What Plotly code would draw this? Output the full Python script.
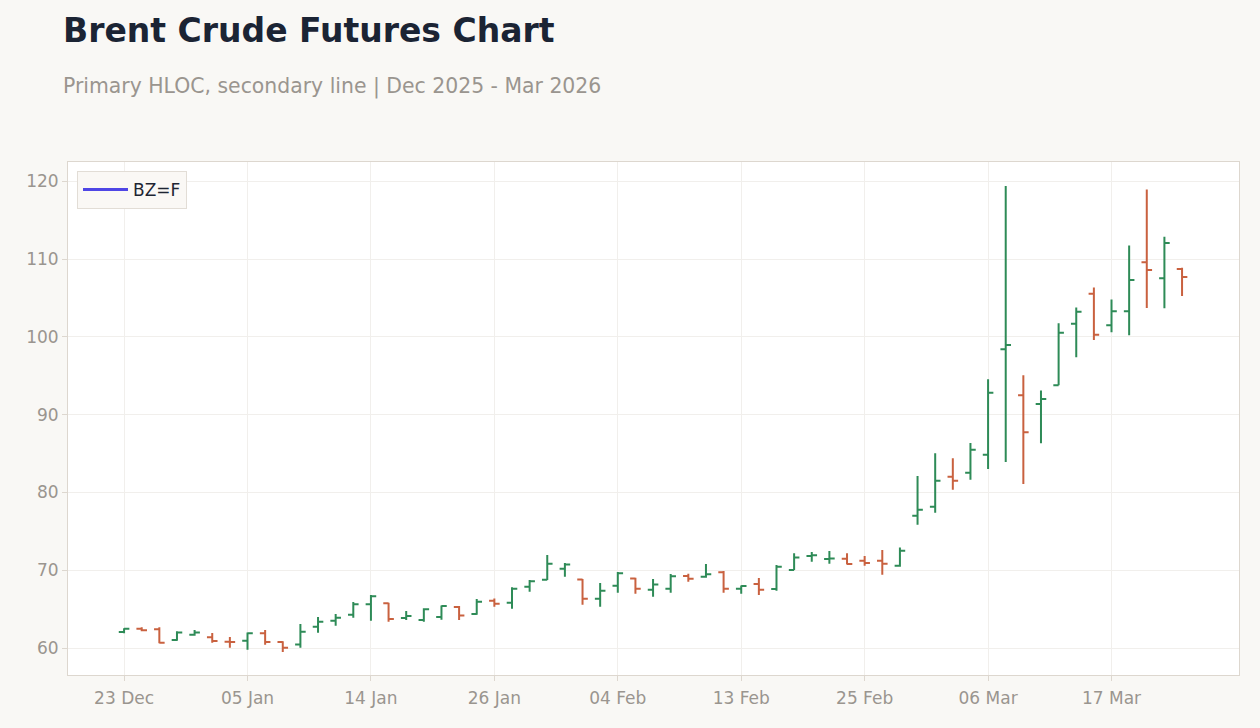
import plotly.graph_objects as go

dates = [
    "2025-12-23", "2025-12-24", "2025-12-26", "2025-12-29", "2025-12-30", "2025-12-31",
    "2026-01-02", "2026-01-05", "2026-01-06", "2026-01-07", "2026-01-08", "2026-01-09",
    "2026-01-12", "2026-01-13", "2026-01-14", "2026-01-15", "2026-01-16", "2026-01-20",
    "2026-01-21", "2026-01-22", "2026-01-23", "2026-01-26", "2026-01-27", "2026-01-28",
    "2026-01-29", "2026-01-30", "2026-02-02", "2026-02-03", "2026-02-04", "2026-02-05",
    "2026-02-06", "2026-02-09", "2026-02-10", "2026-02-11", "2026-02-12", "2026-02-13",
    "2026-02-17", "2026-02-18", "2026-02-19", "2026-02-20", "2026-02-23", "2026-02-24",
    "2026-02-25", "2026-02-26", "2026-02-27", "2026-03-02", "2026-03-03", "2026-03-04",
    "2026-03-05", "2026-03-06", "2026-03-09", "2026-03-10", "2026-03-11", "2026-03-12",
    "2026-03-13", "2026-03-16", "2026-03-17", "2026-03-18", "2026-03-19", "2026-03-20",
    "2026-03-23",
]

open_ = [62.06, 62.48, 62.40, 61.03, 61.71, 61.37, 60.81, 60.94, 61.89, 60.77,
         60.45, 62.74, 63.51, 64.28, 65.61, 65.74, 63.86, 63.60, 63.98, 65.27,
         64.37, 66.06, 65.82, 67.88, 68.78, 70.19, 68.82, 66.34, 68.01, 68.95,
         67.49, 67.62, 69.25, 69.17, 69.73, 67.62, 68.22, 67.58, 70.02, 71.82,
         71.44, 71.48, 71.22, 71.22, 70.58, 77.00, 78.16, 82.02, 82.53, 84.84,
         98.42, 92.50, 91.38, 93.78, 101.67, 105.53, 101.50, 103.30, 109.60, 107.55,
         108.71]
high = [62.55, 62.66, 62.66, 62.14, 62.31, 61.93, 61.41, 62.00, 62.31, 60.86,
        63.08, 63.98, 64.37, 65.91, 66.81, 65.82, 64.75, 65.10, 65.48, 65.40,
        66.30, 66.38, 67.80, 68.74, 71.95, 70.92, 68.87, 68.35, 69.77, 69.03,
        68.87, 69.51, 69.55, 70.79, 69.90, 68.05, 68.99, 70.66, 72.17, 72.33,
        72.46, 72.17, 71.82, 72.59, 72.93, 82.10, 85.05, 84.41, 86.34, 94.56,
        119.40, 95.07, 93.10, 101.76, 103.78, 106.36, 104.81, 111.76, 118.93, 112.88,
        108.89]
low = [61.90, 62.14, 60.60, 60.94, 61.58, 60.68, 60.04, 59.78, 60.43, 59.49,
       60.04, 61.97, 62.87, 63.90, 63.51, 63.38, 63.60, 63.38, 63.64, 63.60,
       64.28, 65.31, 65.05, 67.24, 68.74, 69.17, 65.56, 65.31, 67.11, 66.98,
       66.59, 67.11, 68.52, 69.03, 67.11, 66.98, 66.81, 67.37, 70.02, 71.09,
       70.84, 70.75, 70.58, 69.42, 70.45, 75.85, 77.39, 80.34, 81.63, 83.00,
       83.91, 81.08, 86.32, 93.78, 97.39, 99.61, 100.60, 100.20, 103.70, 103.69,
       105.24]
close = [62.48, 62.27, 60.68, 62.00, 62.00, 60.90, 60.77, 61.89, 60.77, 60.04,
         62.08, 63.38, 63.90, 65.61, 66.64, 63.73, 64.11, 64.97, 65.40, 64.19,
         65.95, 65.69, 67.62, 68.57, 70.84, 70.75, 66.34, 67.37, 69.60, 67.62,
         68.18, 69.21, 68.91, 69.47, 67.62, 67.97, 67.49, 70.45, 71.65, 71.91,
         71.52, 70.79, 70.92, 70.84, 72.50, 77.77, 81.50, 81.50, 85.48, 92.80,
         98.97, 87.73, 92.02, 100.52, 103.22, 100.26, 103.30, 107.30, 108.58, 112.06,
         107.68]

tick_dates = ["2025-12-23", "2026-01-05", "2026-01-14", "2026-01-26", "2026-02-04",
              "2026-02-13", "2026-02-25", "2026-03-06", "2026-03-17"]
tick_labels = ["23 Dec", "05 Jan", "14 Jan", "26 Jan", "04 Feb",
               "13 Feb", "25 Feb", "06 Mar", "17 Mar"]

GREEN = "#2e8b57"
RED = "#c9613f"
GRID = "#f1efec"
AXIS = "#ddd7cf"
TICKC = "#9a958f"

fig = go.Figure()
fig.add_trace(go.Ohlc(
    x=dates, open=open_, high=high, low=low, close=close,
    name="BZ=F", showlegend=False,
    increasing=dict(line=dict(color=GREEN, width=2)),
    decreasing=dict(line=dict(color=RED, width=2)),
))
fig.add_trace(go.Scatter(
    x=[None], y=[None], mode="lines", name="BZ=F",
    line=dict(color="#4f46e5", width=3), showlegend=True,
))

fig.update_layout(
    width=1260, height=728,
    margin=dict(l=68, r=21, t=162, b=53),
    paper_bgcolor="#f9f8f5",
    plot_bgcolor="#ffffff",
    font=dict(family="DejaVu Sans", color=TICKC, size=17),
    title=dict(text="<b>Brent Crude Futures Chart</b>",
               font=dict(family="DejaVu Sans", size=33, color="#1b2434"),
               xref="container", x=63/1260, xanchor="left",
               yref="container", y=1 - 30/728, yanchor="middle"),
    annotations=[dict(text="Primary HLOC, secondary line | Dec 2025 - Mar 2026",
                      xref="paper", yref="paper", x=-7/1171, y=1 + (162-86)/513,
                      xanchor="left", yanchor="middle", showarrow=False,
                      font=dict(family="DejaVu Sans", size=20.4, color="#9a958f"))],
    legend=dict(x=9/1171, y=1 - 9/513, xanchor="left", yanchor="top",
                bgcolor="#faf8f5", bordercolor="#e2ddd6", borderwidth=1,
                font=dict(size=17, color="#1e2533"), itemwidth=45),
    showlegend=True,
    xaxis=dict(type="category", rangeslider=dict(visible=False),
               range=[-3.18, 63.23], tickmode="array",
               tickvals=tick_dates, ticktext=tick_labels,
               showgrid=True, gridcolor=GRID, gridwidth=1,
               showline=True, linecolor=AXIS, linewidth=1, mirror=True,
               ticks="outside", ticklen=5, tickcolor=AXIS, ticklabelstandoff=3,
               tickfont=dict(size=17, color=TICKC), zeroline=False),
    yaxis=dict(range=[56.53, 122.48], tickvals=[60, 70, 80, 90, 100, 110, 120],
               showgrid=True, gridcolor=GRID, gridwidth=1,
               showline=True, linecolor=AXIS, linewidth=1, mirror=True,
               ticks="outside", ticklen=5, tickcolor=AXIS,
               tickfont=dict(size=17, color=TICKC), zeroline=False),
    hovermode="x",
)

fig.write_html("out.html")
